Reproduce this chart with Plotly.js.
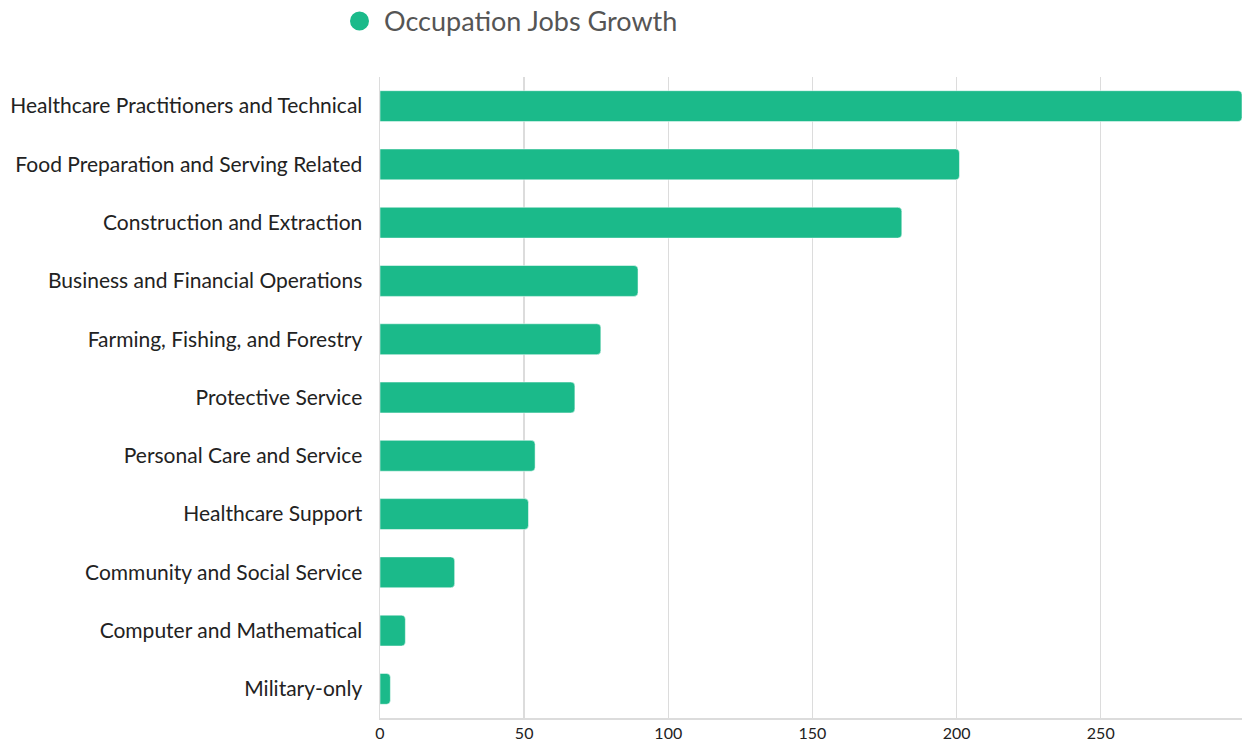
<!DOCTYPE html>
<html>
<head>
<meta charset="utf-8">
<script src="https://cdn.plot.ly/plotly-3.0.1.min.js"></script>
<style>html,body{margin:0;padding:0;background:#fff;}#chart{width:1251px;height:744px;}</style>
</head>
<body>
<div id="chart"></div>
<script>
const categories = [
  "Healthcare Practitioners and Technical",
  "Food Preparation and Serving Related",
  "Construction and Extraction",
  "Business and Financial Operations",
  "Farming, Fishing, and Forestry",
  "Protective Service",
  "Personal Care and Service",
  "Healthcare Support",
  "Community and Social Service",
  "Computer and Mathematical",
  "Military-only"
];
const growth = [299, 201, 181, 89.5, 76.6, 67.6, 53.8, 51.5, 25.9, 8.8, 3.6];
const xTicks = [0, 50, 100, 150, 200, 250];
const seriesName = "Occupation Jobs Growth";

const color = "#1bba8a";
const font = "Lato, 'Open Sans', sans-serif";

const data = [
  {
    type: "bar",
    orientation: "h",
    name: seriesName,
    x: growth,
    y: categories,
    marker: {color: color, cornerradius: 4, line: {color: "rgba(255,255,255,0.5)", width: 1}},
    width: 0.53,
    showlegend: false,
    hoverinfo: "x+y"
  }
];

// plot area: x 380..1242 (862px), y 77..718 (641px)
const layout = {
  width: 1251,
  height: 744,
  margin: {l: 380, r: 9, t: 77, b: 26, autoexpand: false},
  paper_bgcolor: "#fff",
  plot_bgcolor: "#fff",
  font: {family: font, color: "#222"},
  showlegend: false,
  shapes: [
    {
      type: "circle", xref: "paper", yref: "paper",
      x0: (350 - 380) / 862, x1: (369 - 380) / 862,
      y0: (718 - 30.5) / 641, y1: (718 - 11.5) / 641,
      fillcolor: color, line: {width: 0}
    }
  ],
  annotations: [
    {
      xref: "paper", yref: "paper",
      x: (382 - 380) / 862, xanchor: "left",
      y: (718 - 21) / 641, yanchor: "middle",
      text: seriesName, showarrow: false,
      font: {family: font, size: 27, color: "#555"}
    }
  ],
  xaxis: {
    range: [0, Math.max(...growth)],
    tickvals: xTicks,
    ticktext: xTicks.map(String),
    showgrid: true,
    gridcolor: "#dcdcdc",
    gridwidth: 1.5,
    zeroline: false,
    showline: true,
    linecolor: "#dcdcdc",
    linewidth: 1.5,
    ticks: "",
    tickfont: {family: font, size: 16, color: "#222"},
    fixedrange: true
  },
  yaxis: {
    type: "category",
    categoryorder: "array",
    categoryarray: categories.slice().reverse(),
    autorange: true,
    showgrid: false,
    zeroline: false,
    showline: true,
    linecolor: "#dcdcdc",
    linewidth: 1.5,
    ticks: "",
    ticklabelstandoff: 12,
    tickfont: {family: font, size: 21, color: "#222"},
    fixedrange: true
  }
};

Plotly.newPlot("chart", data, layout, {displayModeBar: false, staticPlot: true});
</script>
</body>
</html>
